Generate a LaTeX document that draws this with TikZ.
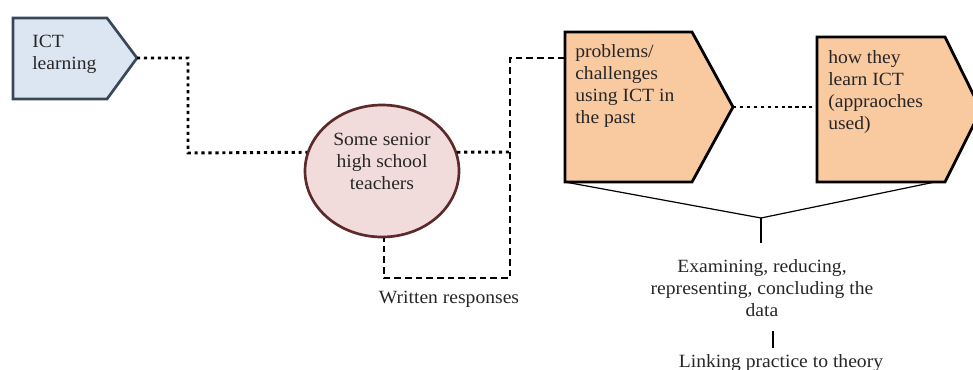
\documentclass[tikz,border=0pt]{standalone}
\usepackage{fontspec}
\setmainfont{Liberation Serif}[FakeStretch=1.05]
\usetikzlibrary{calc,shapes.geometric}
\definecolor{bluefill}{HTML}{DCE6F2}
\definecolor{blueline}{HTML}{3A4759}
\definecolor{pinkfill}{HTML}{F2DCDB}
\definecolor{pinkline}{HTML}{5C2A2A}
\definecolor{peachfill}{HTML}{F9C9A0}
\definecolor{textgray}{HTML}{262626}
\tikzset{
  txt/.style={font=\fontsize{14pt}{16.5pt}\selectfont, text=textgray, inner sep=0pt},
  dotline/.style={line width=2.2pt, dash pattern=on 2.4pt off 2.8pt},
  dashline/.style={line width=1pt, dash pattern=on 5pt off 3pt},
  thinline/.style={line width=0.9pt},
}
\begin{document}
\begin{tikzpicture}[x=0.75pt,y=-0.75pt]
\useasboundingbox (0,0) rectangle (973,370);
% ICT learning box
\coordinate (ictA) at (13,18);
\coordinate (ictB) at (107,18);
\coordinate (icttip) at (137,58);
\coordinate (ictC) at (107,99);
\coordinate (ictD) at (13,99);
\draw[fill=bluefill, draw=blueline, line width=2pt, line join=miter]
  (ictA) -- (ictB) -- (icttip) -- (ictC) -- (ictD) -- cycle;
\node[txt, anchor=north west, align=left] (ict) at (32,35) {ICT\\learning};

% ellipse
\node[ellipse, draw=pinkline, fill=pinkfill, line width=2pt,
      minimum width=115.5pt, minimum height=99pt, inner sep=0pt] (ell) at (382,171) {};
\node[txt, align=center] (ellt) at (382,161) {Some senior\\high school\\teachers};

% problems box
\coordinate (p1A) at (565,32);
\coordinate (p1B) at (692,32);
\coordinate (p1tip) at (733,107);
\coordinate (p1C) at (692,182);
\coordinate (p1D) at (565,182);
\coordinate (p1w) at (565,58);
\draw[fill=peachfill, draw=black, line width=2.1pt, line join=miter]
  (p1A) -- (p1B) -- (p1tip) -- (p1C) -- (p1D) -- cycle;
\node[txt, anchor=north west, align=left] (p1t) at (575,44) {problems/\\challenges\\using ICT in\\the past};

% how they learn box
\coordinate (p2A) at (817,37);
\coordinate (p2B) at (945,37);
\coordinate (p2tip) at (981,110);
\coordinate (p2C) at (945,182);
\coordinate (p2D) at (817,182);
\coordinate (p2w) at (817,107);
\coordinate (p2r) at (935,182);
\draw[fill=peachfill, draw=black, line width=2.1pt, line join=miter]
  (p2A) -- (p2B) -- (p2tip) -- (p2C) -- (p2D) -- cycle;
\node[txt, anchor=north west, align=left] (p2t) at (828,50) {how they\\learn ICT\\(appraoches\\used)};

% dotted connectors
\coordinate (k1) at (188,58);
\coordinate (k2) at (188,153);
\draw[dotline] (icttip) -- (k1) -- (k2) -- (ell.166);
\coordinate (dmid) at (510,152);
\draw[dotline] (ell.14) -- (dmid);
\draw[dotline] (p1tip) -- (p2w);

% dashed connector
\coordinate (dtop) at (510,58);
\coordinate (dbot) at (510,278);
\coordinate (dleft) at (384,278);
\draw[dashline] (p1w) -- (dtop) -- (dbot) -- (dleft) -- (ell.south -| dleft);
\node[txt, anchor=north] (wr) at (449,291) {Written responses};

% bracket
\coordinate (br) at (761,218);
\coordinate (brb) at (761,243);
\draw[thinline] (p1D) -- (br) -- (p2r);
\draw[thinline] (br) -- (brb);
\node[txt, anchor=north, align=center] (exam) at (762,259) {Examining, reducing,\\representing, concluding the\\data};
\coordinate (l1) at (773,331);
\coordinate (l2) at (773,348);
\draw[thinline] (l1) -- (l2);
\node[txt, anchor=north] (link) at (781,354) {Linking practice to theory};
\end{tikzpicture}
\end{document}
